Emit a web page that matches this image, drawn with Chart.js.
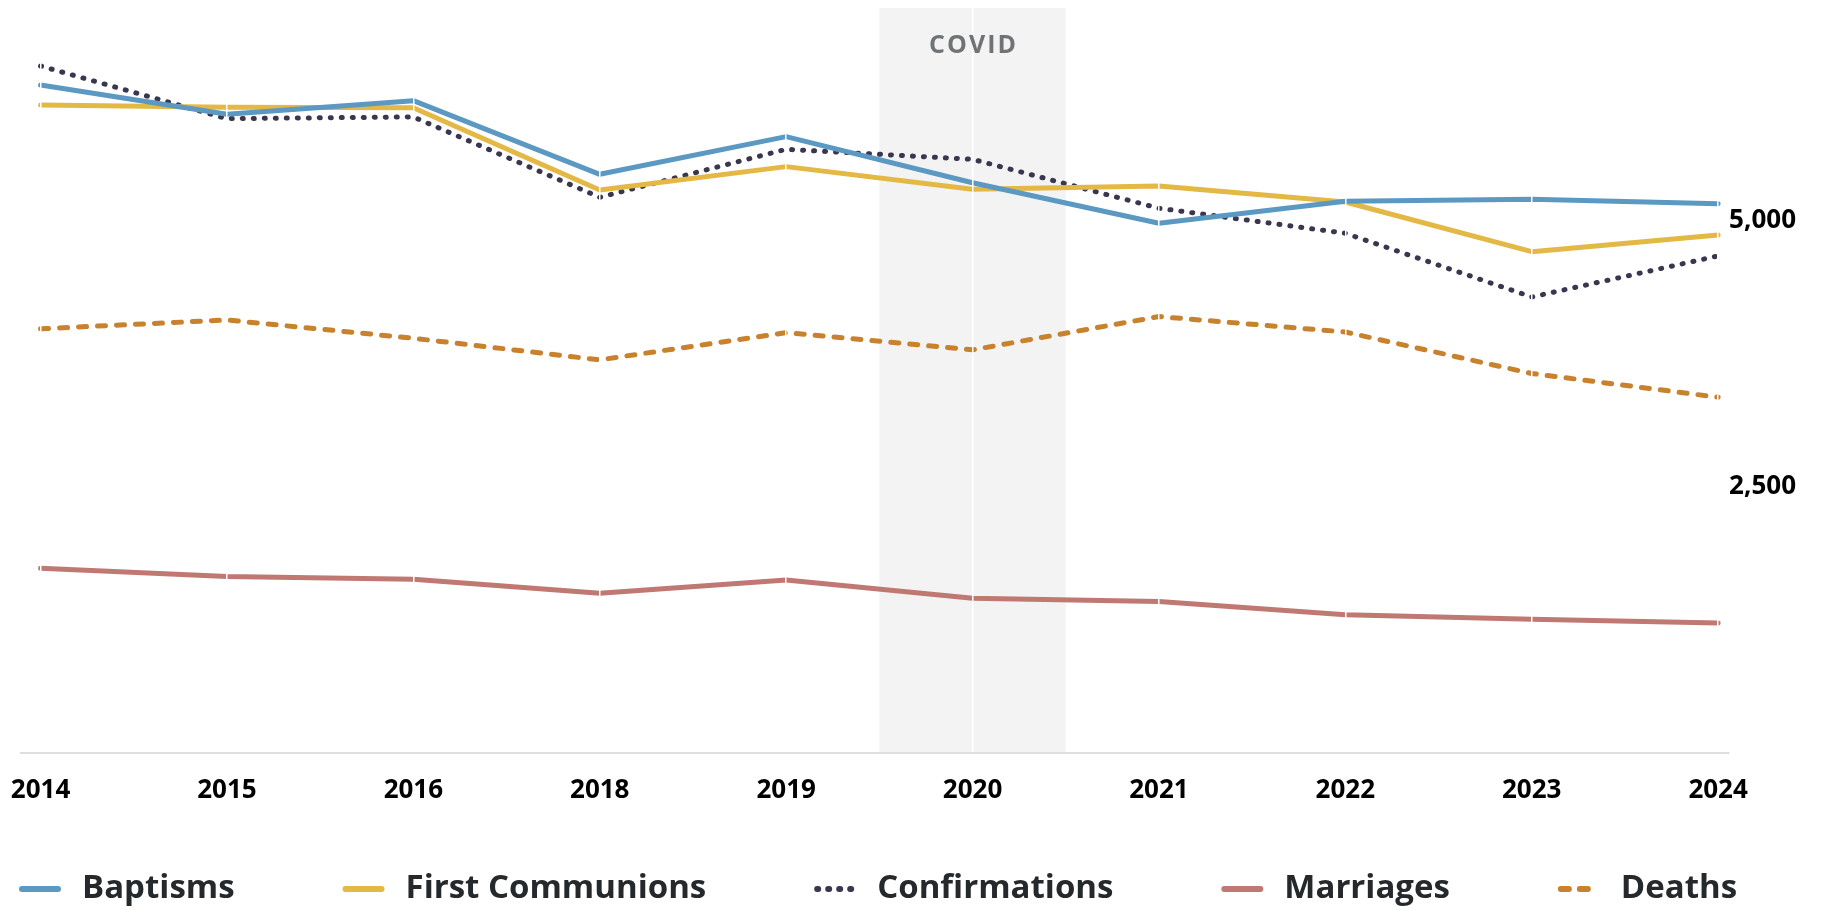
<!DOCTYPE html>
<html><head><meta charset="utf-8">
<script src="https://cdn.jsdelivr.net/npm/chart.js@4"></script>
<style>html,body{margin:0;padding:0;background:#fff;} #wrap{width:1828px;height:910px;position:relative}</style>
</head><body><div id="wrap"><canvas id="c"></canvas></div>
<script>
const years = ['2014','2015','2016','2018','2019','2020','2021','2022','2023','2024'];
const baptisms = [6276,6001,6129,5437,5791,5358,4977,5184,5203,5161];
const firstCommunions = [6088,6067,6063,5290,5509,5296,5327,5177,4710,4867];
const confirmations = [6455,5960,5976,5221,5672,5578,5118,4883,4284,4670];
const marriages = [1735,1657,1632,1500,1625,1453,1422,1297,1256,1219];
const deaths = [3985,4068,3896,3693,3949,3787,4100,3955,3565,3342];
const yTickValues = [2500, 5000];
const covidYear = '2020';
const covidLabel = 'COVID';

const toXY = arr => arr.map((v, i) => ({x: i, y: v}));

Chart.defaults.font.family = "'Open Sans', sans-serif";

const covidBand = {
  id: 'covidBand',
  beforeDraw(chart) {
    const {ctx, chartArea: {top, bottom}, scales: {x}} = chart;
    const i = years.indexOf(covidYear);
    const l = x.getPixelForValue(i - 0.5), r = x.getPixelForValue(i + 0.5);
    ctx.save();
    ctx.fillStyle = '#f3f3f3';
    ctx.fillRect(l, top, r - l, bottom - top);
    ctx.restore();
  },
  afterDraw(chart) {
    const {ctx, chartArea: {top}, scales: {x}} = chart;
    const i = years.indexOf(covidYear);
    const cx = x.getPixelForValue(i);
    ctx.save();
    ctx.font = "bold 25px 'Open Sans'";
    ctx.fillStyle = '#6f7375';
    ctx.textAlign = 'center';
    ctx.textBaseline = 'middle';
    try { ctx.letterSpacing = '2px'; } catch (e) {}
    ctx.fillText(covidLabel, cx + 1, top + 38);
    ctx.restore();
  }
};

// Legend drawn along the bottom edge, spread across the plot width
const lineLegend = {
  id: 'lineLegend',
  afterDraw(chart) {
    const {ctx, chartArea} = chart;
    const sets = chart.data.datasets;
    ctx.save();
    ctx.font = "bold 33px 'Open Sans'";
    const widths = sets.map(d => ctx.measureText(d.label).width);
    const markerToText = 63;
    const start = chartArea.left - 2;
    const end = chartArea.right + 8;
    const used = widths.reduce((a, w) => a + w + markerToText, 0);
    const gap = (end - start - used) / (sets.length - 1);
    const cy = chart.height - 21;
    let x = start;
    sets.forEach((d, i) => {
      ctx.save();
      ctx.strokeStyle = d.borderColor;
      ctx.lineWidth = 6;
      ctx.lineCap = d.borderCapStyle || 'butt';
      ctx.setLineDash(d.borderDash || []);
      ctx.beginPath();
      ctx.moveTo(x + 3, cy);
      ctx.lineTo(x + 39, cy);
      ctx.stroke();
      ctx.restore();
      ctx.fillStyle = '#26292c';
      ctx.textAlign = 'left';
      ctx.textBaseline = 'middle';
      ctx.fillText(d.label, x + markerToText, cy);
      x += markerToText + widths[i] + gap;
    });
    ctx.restore();
  }
};

const tickFont = {family: "'Open Sans'", size: 26, weight: 'bold'};

const chart = new Chart(document.getElementById('c'), {
  type: 'line',
  data: {
    datasets: [
      {label: 'Baptisms', data: toXY(baptisms), borderColor: '#5b99c2', backgroundColor: '#5b99c2', borderWidth: 5, borderCapStyle: 'round', borderJoinStyle: 'round'},
      {label: 'First Communions', data: toXY(firstCommunions), borderColor: '#e3b845', backgroundColor: '#e3b845', borderWidth: 5, borderCapStyle: 'round', borderJoinStyle: 'round'},
      {label: 'Confirmations', data: toXY(confirmations), borderColor: '#38374f', backgroundColor: '#38374f', borderWidth: 5, borderDash: [1, 10], borderCapStyle: 'round', borderJoinStyle: 'round'},
      {label: 'Marriages', data: toXY(marriages), borderColor: '#c07873', backgroundColor: '#c07873', borderWidth: 5, borderCapStyle: 'round', borderJoinStyle: 'round'},
      {label: 'Deaths', data: toXY(deaths), borderColor: '#c8812d', backgroundColor: '#c8812d', borderWidth: 5, borderDash: [8, 11], borderCapStyle: 'round', borderJoinStyle: 'round'}
    ]
  },
  options: {
    responsive: true,
    maintainAspectRatio: false,
    animation: false,
    devicePixelRatio: 1,
    elements: {point: {radius: 0, hoverRadius: 0}, line: {tension: 0}},
    layout: {padding: {left: 21, top: 8, right: 32, bottom: 82}},
    plugins: {
      tooltip: {enabled: false},
      legend: {display: false}
    },
    scales: {
      x: {
        type: 'linear',
        min: -0.105,
        max: 9.059,
        grid: {color: '#ffffff', lineWidth: 1.5, z: 1, drawTicks: false},
        border: {color: '#dedede', width: 2, z: 0},
        ticks: {
          stepSize: 1, includeBounds: false, autoSkip: false, maxRotation: 0,
          padding: 22, color: '#000', font: tickFont,
          callback: v => Number.isInteger(v) ? years[v] : ''
        },
        afterFit(s) { s.paddingLeft = 0; s.paddingRight = 0; }
      },
      y: {
        position: 'right',
        min: 0,
        max: 7000,
        grid: {display: false, drawTicks: false},
        border: {display: false},
        afterBuildTicks(s) { s.ticks = yTickValues.map(v => ({value: v})); },
        afterFit(s) { s.paddingTop = 0; s.paddingBottom = 0; },
        ticks: {
          padding: 0, color: '#000', font: tickFont,
          callback: v => Number(v).toLocaleString('en-US')
        }
      }
    }
  },
  plugins: [covidBand, lineLegend]
});
chart.draw();
</script>
</body></html>
